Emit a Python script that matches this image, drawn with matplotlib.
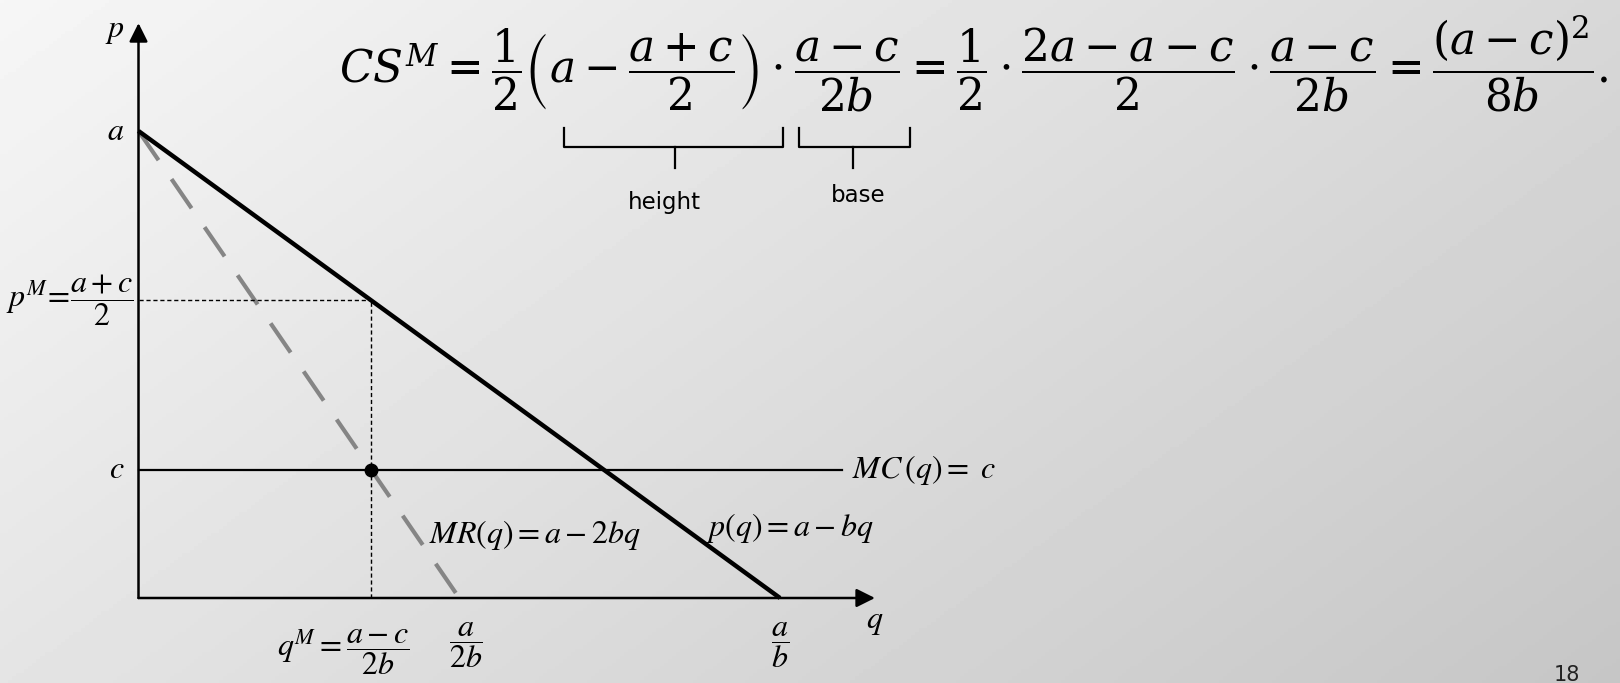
import numpy as np
import matplotlib
matplotlib.use("Agg")
import matplotlib.pyplot as plt
from matplotlib.lines import Line2D

# model parameters (a, b, c)
A = 1.0
B = 1.0
C = 0.275

q_choke = A / B              # demand hits the axis
q_mr = A / (2 * B)           # MR hits the axis
q_m = (A - C) / (2 * B)      # monopoly quantity
p_m = (A + C) / 2            # monopoly price

W, H = 1620, 683


def px(x, y):
    """full-size pixel (from top-left) -> figure fraction"""
    return x / W, 1 - y / H


fig = plt.figure(figsize=(W / 100, H / 100), dpi=100)
ax = fig.add_axes([0, 0, 1, 1])
ax.set_xlim(-138.5 / 641.5, (W - 138.5) / 641.5)
ax.set_ylim(-85 / 467, (H - 85) / 467)
ax.axis("off")

# slide background, light top-left to grey bottom-right
gx, gy = np.meshgrid(np.linspace(0, 1, 400), np.linspace(0, 1, 200))
shade = 0.965 - 0.12 * gx - 0.07 * gy
ax.imshow(shade, cmap="gray", vmin=0, vmax=1, extent=(0, 1, 0, 1),
          transform=ax.transAxes, aspect="auto", zorder=0)

# axes with arrow heads
ax.annotate("", xy=(1.148, 0), xytext=(0, 0),
            arrowprops=dict(arrowstyle="-|>", lw=1.8, color="black",
                            mutation_scale=28, shrinkA=0, shrinkB=0))
ax.annotate("", xy=(0, 1.231), xytext=(0, 0),
            arrowprops=dict(arrowstyle="-|>", lw=1.8, color="black",
                            mutation_scale=28, shrinkA=0, shrinkB=0))

# demand, MR, MC
q = np.array([0, q_choke])
ax.plot(q, A - B * q, color="black", lw=3.2, solid_capstyle="butt", zorder=3)
q = np.array([0, q_mr])
ax.plot(q, A - 2 * B * q, color="#858585", lw=3, dashes=(8.5, 5.5), zorder=2)
ax.plot([0, 1.097], [C, C], color="black", lw=1.6, zorder=3)

# guides to monopoly point
ax.plot([0, q_m], [p_m, p_m], color="black", lw=1, dashes=(3, 2), zorder=2)
ax.plot([q_m, q_m], [0, p_m], color="black", lw=1, dashes=(3, 2), zorder=2)
ax.plot([q_m], [C], "o", color="black", ms=9, zorder=4)

lab = dict(math_fontfamily="stix", color="black", fontsize=23)
ax.text(-0.022, 1.215, r"$p$", ha="right", va="center", **lab)
ax.text(-0.022, A, r"$a$", ha="right", va="center", **lab)
ax.text(-0.022, C, r"$c$", ha="right", va="center", **lab)
ax.text(-0.008, p_m, r"$p^{M}\!=\!\dfrac{a+c}{2}$", ha="right", va="center", **lab)
ax.text(q_m + 0.06, -0.115, r"$q^{M}=\dfrac{a-c}{2b}$", ha="right", va="center", **lab)
ax.text(q_mr + 0.01, -0.1, r"$\dfrac{a}{2b}$", ha="center", va="center", **lab)
ax.text(q_choke, -0.1, r"$\dfrac{a}{b}$", ha="center", va="center", **lab)
ax.text(1.148, -0.05, r"$q$", ha="center", va="center", **lab)
ax.text(1.112, C, r"$MC\,(q) = \ c$", ha="left", va="center", **lab)
ax.text(q_m + 0.09, C - 0.14, r"$MR(q) = a - 2bq$", ha="left", va="center", **lab)
ax.text(0.885, C - 0.125, r"$p(q) = a - bq$", ha="left", va="center", **lab)

# consumer surplus formula
formula = (r"$CS^{M} = \dfrac{1}{2}\left(a - \dfrac{a+c}{2}\right)\cdot\dfrac{a-c}{2b}"
           r" = \dfrac{1}{2}\cdot\dfrac{2a-a-c}{2}\cdot\dfrac{a-c}{2b}"
           r" = \dfrac{(a-c)^{2}}{8b}.$")
fig.text(*px(339, 64), formula, ha="left", va="center", fontsize=31.5,
         math_fontfamily="dejavuserif", color="black")


def brace(x0, x1, xm, top=128, mid=147, tip=168):
    kw = dict(transform=fig.transFigure, color="black", lw=1.6)
    xs = [x0, x0, x1, x1]
    ys = [top, mid, mid, top]
    fig.add_artist(Line2D([px(x, y)[0] for x, y in zip(xs, ys)],
                          [px(x, y)[1] for x, y in zip(xs, ys)], **kw))
    fig.add_artist(Line2D([px(xm, mid)[0]] * 2,
                          [px(xm, mid)[1], px(xm, tip)[1]], **kw))


brace(564, 783, 675)
brace(799, 910, 853)
fig.text(*px(664, 202), "height", ha="center", va="center", fontsize=16.5,
         family="DejaVu Sans", color="black")
fig.text(*px(858, 196), "base", ha="center", va="center", fontsize=16.5,
         family="DejaVu Sans", color="black")
fig.text(*px(1567, 675), "18", ha="center", va="center", fontsize=15,
         family="DejaVu Sans", color="#222222")

fig.savefig("out.png", dpi=100)
